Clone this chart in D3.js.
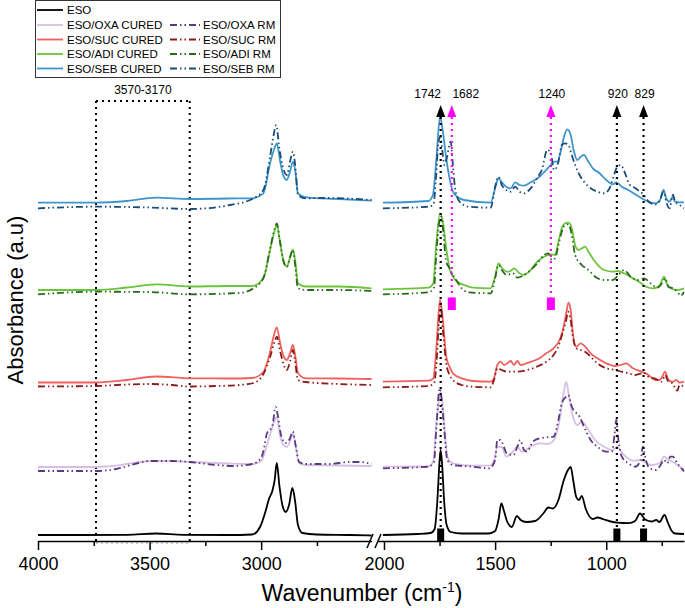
<!DOCTYPE html>
<html><head><meta charset="utf-8">
<script src="https://cdn.jsdelivr.net/npm/d3@7"></script>
<style>body{margin:0;background:#fff} svg{display:block;font-family:"Liberation Sans",Arial,sans-serif}</style>
</head><body><svg id="c" width="685" height="608"></svg>
<script>
// ---------- DATA (wavenumber cm-1, absorbance a.u. incl. stacking offset) ----------
const esoLeft = [[4000,.06],[3800,.06],[3600,.062],[3470,.075],[3350,.062],[3150,.06],[3040,.065],[3005,.14],[2980,.30],[2965,.42],[2950,.50],[2940,.60],[2930,.78],[2918,.55],[2905,.36],[2890,.29],[2875,.36],[2860,.53],[2848,.40],[2835,.16],[2815,.08],[2750,.065],[2600,.06],[2505,.055]];
const esoRight = [[2005,.06],[1850,.07],[1790,.08],[1772,.12],[1760,.40],[1750,.80],[1745,.91],[1738,.75],[1730,.42],[1718,.16],[1700,.09],[1650,.075],[1530,.075],[1500,.10],[1485,.21],[1472,.375],[1460,.30],[1447,.20],[1425,.14],[1402,.25],[1385,.21],[1360,.19],[1320,.20],[1285,.27],[1260,.335],[1240,.325],[1215,.41],[1192,.60],[1172,.71],[1160,.74],[1148,.60],[1135,.44],[1123,.41],[1110,.45],[1092,.32],[1060,.22],[1040,.235],[1010,.215],[980,.195],[950,.183],[900,.178],[870,.20],[848,.275],[825,.215],[795,.195],[775,.21],[760,.19],[738,.26],[722,.18],[705,.10],[690,.075],[650,.07]];

const oxaCuredLeft = [[4000,.74],[3800,.74],[3700,.745],[3600,.77],[3500,.80],[3400,.80],[3320,.79],[3150,.775],[3040,.77],[3000,.80],[2975,.95],[2955,1.10],[2930,1.24],[2915,1.05],[2900,.96],[2885,.94],[2870,1.00],[2858,1.075],[2845,.95],[2830,.78],[2800,.76],[2650,.755],[2505,.75]];
const oxaCuredRight = [[2005,.743],[1800,.745],[1778,.80],[1765,1.15],[1752,1.42],[1745,1.49],[1738,1.40],[1730,1.21],[1715,.843],[1690,.777],[1600,.753],[1525,.753],[1505,.80],[1490,.943],[1470,.94],[1450,.843],[1420,.893],[1400,.943],[1380,.893],[1340,.943],[1300,.977],[1265,.97],[1235,1.01],[1210,1.21],[1192,1.477],[1180,1.593],[1165,1.41],[1145,1.21],[1130,1.16],[1110,1.193],[1085,1.127],[1050,1.01],[1010,.943],[970,.91],[952,.943],[920,.86],[880,.803],[845,.81],[830,.793],[800,.76],[760,.777],[740,.843],[720,.81],[700,.793],[670,.743],[650,.72]];
const oxaRmLeft = [[4000,.70],[3800,.70],[3740,.70],[3650,.72],[3550,.78],[3500,.80],[3400,.80],[3320,.79],[3200,.76],[3120,.75],[3040,.77],[3000,.83],[2985,.95],[2975,1.07],[2950,1.15],[2935,1.34],[2925,1.25],[2910,1.05],[2890,.98],[2872,1.02],[2858,1.095],[2845,.95],[2830,.79],[2800,.77],[2700,.77],[2600,.79],[2560,.79],[2505,.77]];
const oxaRmRight = [[2005,.727],[1800,.743],[1775,.793],[1765,1.11],[1750,1.527],[1742,1.44],[1730,1.143],[1715,.81],[1690,.76],[1600,.743],[1525,.727],[1500,.81],[1490,1.01],[1478,1.01],[1470,.99],[1447,.877],[1417,.86],[1400,.943],[1387,1.01],[1370,.91],[1357,.893],[1330,.993],[1300,1.027],[1265,1.037],[1237,1.043],[1215,1.21],[1200,1.377],[1180,1.443],[1170,1.46],[1155,1.343],[1140,1.293],[1120,1.243],[1100,1.143],[1070,1.01],[1040,.943],[1000,.893],[975,.893],[962,1.077],[955,1.21],[945,1.01],[930,.843],[900,.777],[870,.743],[845,.81],[835,.943],[825,.843],[810,.743],[780,.71],[760,.743],[740,.81],[725,.777],[712,.843],[700,.843],[680,.777],[650,.697]];

const sucCuredLeft = [[4000,1.585],[3740,1.585],[3600,1.61],[3470,1.645],[3320,1.627],[3150,1.625],[3040,1.63],[2990,1.69],[2960,1.89],[2940,2.08],[2930,2.137],[2915,1.98],[2900,1.85],[2885,1.81],[2870,1.88],[2858,1.96],[2847,1.85],[2835,1.68],[2800,1.627],[2650,1.625],[2505,1.62]];
const sucCuredRight = [[2005,1.593],[1800,1.603],[1778,1.627],[1765,1.91],[1748,2.41],[1735,2.21],[1720,1.843],[1705,1.743],[1690,1.677],[1650,1.627],[1600,1.60],[1520,1.593],[1505,1.627],[1490,1.76],[1475,1.793],[1460,1.76],[1445,1.777],[1430,1.80],[1415,1.76],[1400,1.80],[1385,1.76],[1350,1.783],[1300,1.827],[1270,1.877],[1237,1.927],[1210,2.01],[1195,2.11],[1180,2.277],[1170,2.383],[1160,2.31],[1150,2.077],[1135,1.943],[1115,1.977],[1095,1.943],[1070,1.877],[1040,1.827],[1000,1.777],[960,1.75],[935,1.76],[910,1.777],[880,1.727],[840,1.693],[810,1.66],[780,1.61],[760,1.61],[748,1.643],[735,1.693],[720,1.61],[700,1.593],[685,1.61],[670,1.583],[650,1.593]];
const sucRmLeft = [[4000,1.545],[3740,1.55],[3600,1.565],[3500,1.57],[3400,1.56],[3320,1.545],[3200,1.55],[3100,1.56],[3034,1.58],[2990,1.67],[2960,1.84],[2940,1.99],[2930,2.043],[2915,1.90],[2900,1.77],[2885,1.71],[2870,1.80],[2858,1.91],[2848,1.80],[2835,1.61],[2800,1.59],[2650,1.57],[2505,1.56]];
const sucRmRight = [[2005,1.537],[1800,1.55],[1775,1.577],[1765,1.743],[1752,2.21],[1745,2.343],[1735,2.11],[1720,1.777],[1705,1.66],[1690,1.61],[1650,1.56],[1600,1.543],[1520,1.537],[1505,1.61],[1490,1.727],[1470,1.71],[1447,1.693],[1400,1.693],[1357,1.71],[1312,1.743],[1270,1.793],[1237,1.86],[1210,1.977],[1195,2.093],[1180,2.21],[1172,2.293],[1160,2.21],[1150,2.043],[1135,1.927],[1115,1.91],[1095,1.893],[1070,1.843],[1040,1.777],[1000,1.727],[960,1.71],[930,1.693],[900,1.677],[870,1.66],[840,1.677],[830,1.683],[810,1.643],[780,1.623],[750,1.593],[735,1.66],[720,1.593],[700,1.577],[690,1.527],[680,1.503],[670,1.56],[650,1.543]];

const adiCuredLeft = [[4000,2.51],[3740,2.51],[3600,2.535],[3470,2.567],[3320,2.545],[3150,2.55],[3040,2.55],[2990,2.627],[2960,2.91],[2940,3.10],[2930,3.16],[2915,2.98],[2900,2.80],[2885,2.745],[2870,2.84],[2858,2.917],[2847,2.80],[2835,2.577],[2800,2.545],[2650,2.545],[2505,2.527]];
const adiCuredRight = [[2005,2.517],[1800,2.533],[1778,2.577],[1765,2.96],[1748,3.277],[1735,3.193],[1720,2.927],[1705,2.727],[1690,2.643],[1670,2.593],[1640,2.56],[1600,2.533],[1520,2.527],[1500,2.643],[1485,2.777],[1470,2.733],[1447,2.693],[1430,2.70],[1415,2.727],[1390,2.677],[1370,2.66],[1340,2.71],[1310,2.793],[1280,2.843],[1249,2.867],[1230,2.86],[1215,2.993],[1200,3.127],[1185,3.177],[1170,3.183],[1155,3.127],[1140,2.96],[1125,2.91],[1110,2.927],[1095,2.943],[1080,2.893],[1050,2.793],[1010,2.71],[970,2.693],[950,2.70],[920,2.677],[880,2.627],[850,2.587],[820,2.543],[790,2.527],[760,2.553],[740,2.643],[725,2.56],[710,2.527],[680,2.51],[650,2.527]];
const adiRmLeft = [[4000,2.467],[3740,2.493],[3500,2.49],[3320,2.467],[3100,2.48],[3034,2.527],[2990,2.63],[2960,2.92],[2940,3.12],[2930,3.175],[2915,2.99],[2900,2.80],[2885,2.74],[2870,2.84],[2858,2.91],[2847,2.75],[2835,2.527],[2800,2.51],[2650,2.51],[2505,2.50]];
const adiRmRight = [[2005,2.467],[1800,2.487],[1775,2.533],[1765,2.86],[1752,3.177],[1742,3.243],[1735,3.127],[1720,2.793],[1705,2.727],[1690,2.66],[1670,2.593],[1650,2.527],[1620,2.487],[1520,2.477],[1500,2.627],[1485,2.76],[1470,2.71],[1447,2.66],[1420,2.677],[1400,2.633],[1370,2.66],[1340,2.71],[1310,2.777],[1280,2.86],[1260,2.877],[1245,2.81],[1230,2.827],[1215,2.96],[1200,3.093],[1185,3.16],[1170,3.167],[1155,3.06],[1140,2.86],[1110,2.76],[1080,2.71],[1050,2.643],[1010,2.61],[970,2.61],[945,2.66],[920,2.71],[890,2.643],[860,2.61],[830,2.627],[800,2.577],[770,2.533],[745,2.593],[735,2.627],[720,2.543],[700,2.527],[680,2.49],[665,2.453],[650,2.49]];

const sebCuredLeft = [[4000,3.383],[3740,3.383],[3600,3.40],[3470,3.433],[3320,3.42],[3150,3.425],[3040,3.427],[2990,3.477],[2960,3.777],[2940,3.93],[2930,3.977],[2915,3.80],[2900,3.65],[2885,3.61],[2870,3.70],[2858,3.79],[2847,3.70],[2835,3.477],[2800,3.437],[2650,3.42],[2505,3.403]];
const sebCuredRight = [[2005,3.383],[1800,3.40],[1780,3.46],[1765,3.793],[1748,4.243],[1735,4.093],[1720,3.827],[1705,3.627],[1690,3.493],[1670,3.443],[1640,3.41],[1520,3.383],[1500,3.527],[1485,3.627],[1470,3.587],[1450,3.543],[1430,3.527],[1410,3.587],[1390,3.56],[1370,3.553],[1340,3.587],[1300,3.643],[1270,3.71],[1250,3.76],[1235,3.793],[1220,3.793],[1205,3.893],[1190,4.043],[1175,4.117],[1160,4.06],[1145,3.893],[1130,3.81],[1115,3.843],[1100,3.86],[1085,3.81],[1060,3.727],[1030,3.677],[1000,3.61],[970,3.567],[955,3.587],[930,3.543],[900,3.51],[870,3.467],[840,3.427],[810,3.393],[780,3.377],[760,3.40],[742,3.51],[730,3.427],[715,3.393],[700,3.443],[690,3.393],[670,3.387],[650,3.387]];
const sebRmLeft = [[4000,3.327],[3740,3.343],[3500,3.335],[3320,3.32],[3139,3.36],[3034,3.427],[2990,3.51],[2960,3.843],[2945,4.05],[2932,4.16],[2920,3.95],[2900,3.72],[2885,3.66],[2870,3.80],[2858,3.893],[2847,3.75],[2835,3.46],[2800,3.427],[2700,3.43],[2505,3.41]];
const sebRmRight = [[2005,3.327],[1800,3.343],[1778,3.363],[1765,3.66],[1755,3.993],[1745,4.043],[1738,3.913],[1728,3.76],[1718,3.827],[1700,3.993],[1690,3.76],[1680,3.527],[1660,3.393],[1620,3.343],[1520,3.333],[1500,3.543],[1485,3.643],[1470,3.56],[1450,3.51],[1430,3.493],[1410,3.543],[1390,3.493],[1370,3.477],[1340,3.527],[1310,3.633],[1290,3.71],[1265,3.913],[1249,3.877],[1235,3.71],[1215,3.793],[1200,3.96],[1185,3.977],[1170,3.96],[1155,3.86],[1140,3.76],[1120,3.66],[1100,3.593],[1070,3.527],[1040,3.493],[1010,3.477],[985,3.527],[965,3.66],[950,3.743],[935,3.76],[915,3.677],[895,3.563],[870,3.53],[850,3.497],[832,3.463],[810,3.397],[780,3.363],[760,3.40],[742,3.493],[730,3.393],[715,3.327],[700,3.463],[690,3.393],[670,3.36],[650,3.327]];

const legendNames = ["ESO","ESO/OXA CURED","ESO/OXA RM","ESO/SUC CURED","ESO/SUC RM","ESO/ADI CURED","ESO/ADI RM","ESO/SEB CURED","ESO/SEB RM"];

const xTicksLeft = [4000, 3500, 3000];
const xMinorLeft = [3750, 3250, 2750];
const xTicksRight = [2000, 1500, 1000];
const xMinorRight = [1750, 1250, 750];

const markerPos = [1745, 1695, 1249, 952, 832];
const markerLabels = ["1742", "1682", "1240", "920", "829"];
const markerBottom = [0, 2.31, 2.31, 0, 0];
const regionBounds = [3740, 3320];
const regionLabel = "3570-3170";

// ---------- STYLES ----------
const styles = {
  "ESO": {c:"#000000", d:null},
  "ESO/OXA CURED": {c:"#d7bfe3", d:null},
  "ESO/OXA RM": {c:"#5b3a80", d:"7,3,1.5,3,1.5,3"},
  "ESO/SUC CURED": {c:"#f0605c", d:null},
  "ESO/SUC RM": {c:"#8e1b1b", d:"7,3,1.5,3,1.5,3"},
  "ESO/ADI CURED": {c:"#6cc33c", d:null},
  "ESO/ADI RM": {c:"#2a6a1e", d:"7,3,1.5,3,1.5,3"},
  "ESO/SEB CURED": {c:"#3d95cb", d:null},
  "ESO/SEB RM": {c:"#1c4c78", d:"7,3,1.5,3,1.5,3"}
};
const seriesData = {
  "ESO":[esoLeft, esoRight],
  "ESO/OXA CURED":[oxaCuredLeft, oxaCuredRight],
  "ESO/OXA RM":[oxaRmLeft, oxaRmRight],
  "ESO/SUC CURED":[sucCuredLeft, sucCuredRight],
  "ESO/SUC RM":[sucRmLeft, sucRmRight],
  "ESO/ADI CURED":[adiCuredLeft, adiCuredRight],
  "ESO/ADI RM":[adiRmLeft, adiRmRight],
  "ESO/SEB CURED":[sebCuredLeft, sebCuredRight],
  "ESO/SEB RM":[sebRmLeft, sebRmRight]
};
const drawOrder = ["ESO","ESO/OXA CURED","ESO/OXA RM","ESO/SUC CURED","ESO/SUC RM","ESO/ADI CURED","ESO/ADI RM","ESO/SEB CURED","ESO/SEB RM"];

// ---------- SCALES ----------
const svg = d3.select("#c");
const xL = d3.scaleLinear().domain([4000, 2505]).range([38, 371.6]);
const xR = d3.scaleLinear().domain([2027, 650]).range([378, 684]);
const y = d3.scaleLinear().domain([0, 4.6]).range([541, 81]);
const X = w => (w > 2300 ? xL(w) : xR(w));

const lineL = d3.line().x(d => xL(d[0])).y(d => y(d[1])).curve(d3.curveMonotoneX);
const lineR = d3.line().x(d => xR(d[0])).y(d => y(d[1])).curve(d3.curveMonotoneX);

// dotted region box
const dot = {stroke:"#000", w:2, d:"2,4"};
const gBox = svg.append("g");
const rTop = 4.40;
regionBounds.forEach(w => {
  gBox.append("line").attr("x1", xL(w)).attr("x2", xL(w)).attr("y1", y(rTop)).attr("y2", y(0))
    .attr("stroke", "#000").attr("stroke-width", 2).attr("stroke-dasharray", "2,4");
});
gBox.append("line").attr("x1", xL(regionBounds[0])).attr("x2", xL(regionBounds[1])).attr("y1", y(rTop)).attr("y2", y(rTop))
  .attr("stroke", "#000").attr("stroke-width", 2).attr("stroke-dasharray", "2,4");
gBox.append("line").attr("x1", xL(regionBounds[0])).attr("x2", xL(regionBounds[1])).attr("y1", y(-0.02)).attr("y2", y(-0.02))
  .attr("stroke", "#999").attr("stroke-width", 1.2).attr("stroke-dasharray", "2,3");
gBox.append("text").attr("x", (xL(regionBounds[0]) + xL(regionBounds[1])) / 2).attr("y", y(rTop) - 7)
  .attr("text-anchor", "middle").attr("font-size", 12).text(regionLabel);

// spectra
const gS = svg.append("g").attr("fill", "none").attr("stroke-linejoin", "round");
drawOrder.forEach(n => {
  const st = styles[n];
  const [L, R] = seriesData[n];
  [[L, lineL], [R, lineR]].forEach(([data, gen]) => {
    gS.append("path").attr("d", gen(data)).attr("stroke", st.c).attr("stroke-width", 1.8)
      .attr("stroke-dasharray", st.d);
  });
});

// markers
const gM = svg.append("g");
const tipV = 4.36, baseV = 4.24;
markerPos.forEach((w, i) => {
  const lab = markerLabels[i];
  const col = markerBottom[i] > 0 ? "#ff00ff" : "#000000";
  const x = xR(w);
  const rh = 0.125;
  gM.append("line").attr("x1", x).attr("x2", x).attr("y1", y(baseV)).attr("y2", y(markerBottom[i] + rh))
    .attr("stroke", col).attr("stroke-width", 2.2).attr("stroke-dasharray", "2,4");
  gM.append("path").attr("d", `M${x},${y(tipV)} L${x - 4.5},${y(baseV)} L${x + 4.5},${y(baseV)} Z`).attr("fill", col);
  const rw = col === "#000000" ? 7 : 8;
  gM.append("rect").attr("x", x - rw / 2).attr("y", y(markerBottom[i] + rh)).attr("width", rw)
    .attr("height", y(markerBottom[i]) - y(markerBottom[i] + rh)).attr("fill", col);
  const off = lab === "1742" ? -13 : lab === "1682" ? 14 : 1;
  gM.append("text").attr("x", x + off).attr("y", 98).attr("text-anchor", "middle").attr("font-size", 12).text(lab);
});

// axes
const gA = svg.append("g").attr("transform", "translate(0,541)");
function mkAxis(scale, ticks, minor) {
  const a = gA.append("g").call(d3.axisBottom(scale).tickValues(ticks).tickSize(9).tickSizeOuter(0).tickPadding(7).tickFormat(d3.format("d")));
  a.selectAll("text").attr("font-size", 18).attr("font-family", "Liberation Sans, Arial, sans-serif").attr("fill", "#000");
  a.selectAll("line").attr("stroke-width", 1.5);
  a.select(".domain").attr("stroke-width", 1.5);
  const m = gA.append("g").call(d3.axisBottom(scale).tickValues(minor).tickSize(5).tickFormat(""));
  m.select(".domain").remove();
  m.selectAll("line").attr("stroke-width", 1.5);
}
mkAxis(xL, xTicksLeft, xMinorLeft);
mkAxis(xR, xTicksRight, xMinorRight);
// break marks
[[367, 373], [375, 381]].forEach(([a, b]) => {
  svg.append("line").attr("x1", a).attr("y1", 548).attr("x2", b).attr("y2", 534).attr("stroke", "#000").attr("stroke-width", 1.5);
});

// titles
const xt = svg.append("text").attr("x", 362).attr("y", 601).attr("text-anchor", "middle").attr("font-size", 23);
xt.append("tspan").text("Wavenumber (cm");
xt.append("tspan").attr("font-size", 14).attr("dy", -9).text("-1");
xt.append("tspan").attr("dy", 9).text(")");
svg.append("text").attr("transform", "translate(23,300) rotate(-90)").attr("text-anchor", "middle")
  .attr("font-size", 22).text("Absorbance (a.u)");

// legend
const gLg = svg.append("g");
gLg.append("rect").attr("x", 35.5).attr("y", 0.5).attr("width", 245).attr("height", 77)
  .attr("fill", "#fff").attr("stroke", "#333").attr("stroke-width", 1);
const rowY = [10, 25, 39.5, 54, 68.5];
const legRows = [[legendNames[0]], [legendNames[1], legendNames[2]], [legendNames[3], legendNames[4]], [legendNames[5], legendNames[6]], [legendNames[7], legendNames[8]]];
legRows.forEach((row, r) => {
  row.forEach((n, c) => {
    const st = styles[n];
    const x0 = c === 0 ? 37 : 170, x1 = c === 0 ? 63 : 200;
    gLg.append("line").attr("x1", x0).attr("x2", x1).attr("y1", rowY[r]).attr("y2", rowY[r])
      .attr("stroke", st.c).attr("stroke-width", 1.8).attr("stroke-dasharray", st.d);
    gLg.append("text").attr("x", c === 0 ? 67 : 203).attr("y", rowY[r] + 4).attr("font-size", 11.5).text(n);
  });
});
</script></body></html>
